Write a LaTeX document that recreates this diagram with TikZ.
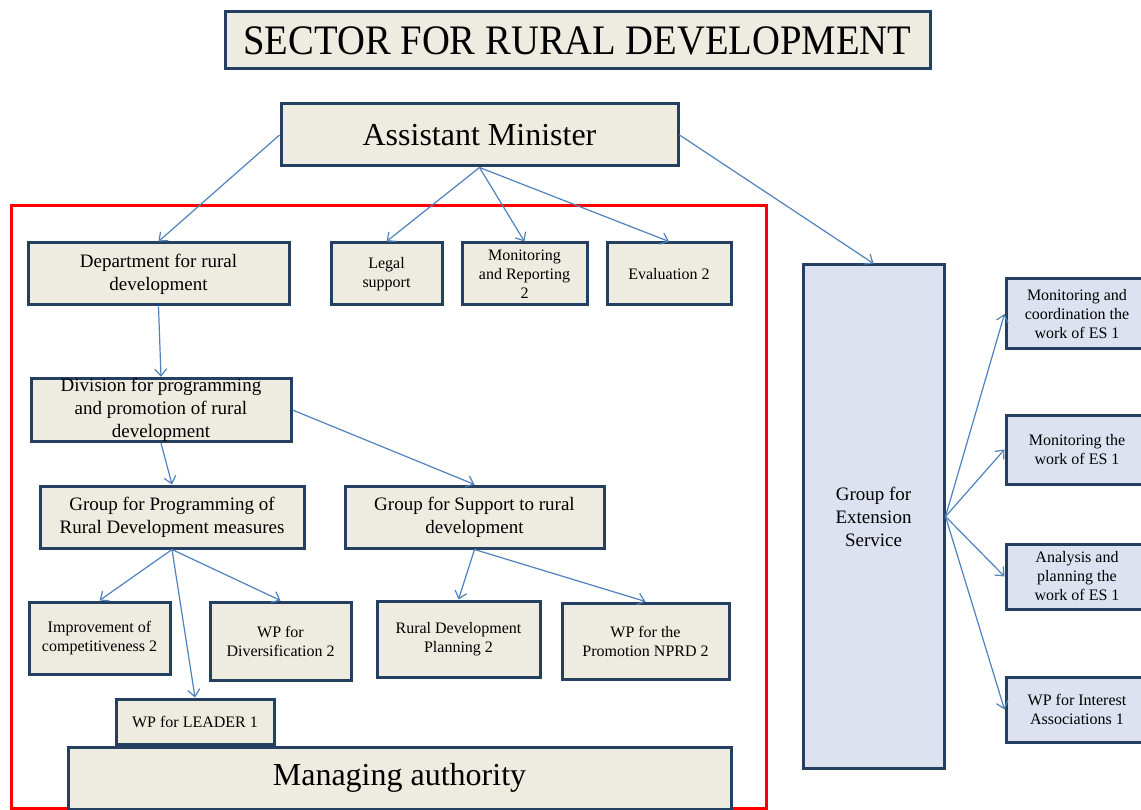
\documentclass[tikz,border=0pt]{standalone}
\usepackage{fontspec}
\setmainfont{Liberation Serif}
\usepackage{graphicx}
\usetikzlibrary{arrows.meta, positioning}

\definecolor{boxfill}{HTML}{EEECE1}
\definecolor{boxline}{HTML}{243F60}
\definecolor{extfill}{HTML}{DCE2F0}
\definecolor{linkblue}{HTML}{4F81BD}

\begin{document}
\begin{tikzpicture}[
	x=1pt, y=-1pt,
	org_box/.style={rectangle, draw=boxline, line width=3pt, fill=boxfill, align=center, inner sep=0pt, font=\fontsize{19}{23}\selectfont},
	small_text/.style={font=\fontsize{16}{19}\selectfont},
	ext_box/.style={org_box, fill=extfill},
	wh/.style 2 args={minimum width=#1pt, minimum height=#2pt},
	link/.style={draw=linkblue, line width=1.2pt, -{Straight Barb[length=7pt, width=12pt]}}
	]
	\useasboundingbox (0,0) rectangle (1141,810);
	
	% --- MANAGING AUTHORITY FRAME ---
	\draw[red, line width=3pt] (11,206) rectangle (766,808);
	
	% --- TOP LEVEL ---
	\node[org_box, wh={705}{57}, font=\fontsize{42}{48}\selectfont] (title) at (577.5,40.5) {\scalebox{0.92}[1]{SECTOR FOR RURAL DEVELOPMENT}};
	\node[org_box, wh={397}{62}, font=\fontsize{32}{38}\selectfont] (am) at (479.5,135) {Assistant Minister};
	
	% --- DEPARTMENT AND SUPPORT UNITS ---
	\node[org_box, wh={261}{62}] (dept) at (158.5,274) {Department for rural\\development};
	\node[org_box, small_text, wh={111}{62}] (legal) at (386.5,274) {Legal\\support};
	\node[org_box, small_text, wh={125}{62}] (mon) at (524.5,274) {Monitoring\\and Reporting\\2};
	\node[org_box, small_text, wh={124}{62}] (eval) at (669,274) {Evaluation 2};
	
	\node[org_box, wh={260}{62}] (div) at (161,410) {Division for programming\\and promotion of rural\\development};
	\node[org_box, wh={264}{62}] (gprog) at (172,517) {Group for Programming of\\Rural Development measures};
	\node[org_box, wh={259}{62}] (gsup) at (474.5,517) {Group for Support to rural\\development};
	
	% --- WORKING PLACES ---
	\node[org_box, small_text, wh={141}{72}] (impr) at (99.5,638) {Improvement of\\competitiveness 2};
	\node[org_box, small_text, wh={141}{78}] (divers) at (280.5,641) {WP for\\Diversification 2};
	\node[org_box, small_text, wh={163}{76}] (rdp) at (458.5,639) {Rural Development\\Planning 2};
	\node[org_box, small_text, wh={167}{76}] (promo) at (645.5,641) {WP for the\\Promotion NPRD 2};
	\node[org_box, small_text, wh={158}{45}] (leader) at (195,721.5) {WP for LEADER 1};
	\node[org_box, wh={663}{62}, font=\fontsize{32}{38}\selectfont] (ma) at (399.5,778) {Managing authority};
	
	% --- EXTENSION SERVICE ---
	\node[ext_box, wh={141}{503}] (ext) at (873.5,516.5) {Group for\\Extension\\Service};
	\node[ext_box, small_text, wh={142}{70}] (es1) at (1077,314) {Monitoring and\\coordination the\\work of ES 1};
	\node[ext_box, small_text, wh={142}{69}] (es2) at (1077,449.5) {Monitoring the\\work of ES 1};
	\node[ext_box, small_text, wh={142}{65}] (es3) at (1077,576.5) {Analysis and\\planning the\\work of ES 1};
	\node[ext_box, small_text, wh={142}{65}] (es4) at (1077,709.5) {WP for Interest\\Associations 1};
	
	% --- LINKS ---
	\draw[link] (am.west) -- (dept.north);
	\draw[link] (am.south) -- (legal.north);
	\draw[link] (am.south) -- (mon.north);
	\draw[link] (am.south) -- (eval.north);
	\draw[link] (am.east) -- (ext.north);
	\draw[link] (dept.south) -- (div.north);
	\draw[link] (div.south) -- (gprog.north);
	\draw[link] (div.east) -- (gsup.north);
	\draw[link] (gprog.south) -- (impr.north);
	\draw[link] (gprog.south) -- (divers.north);
	\draw[link] (gprog.south) -- (leader.north);
	\draw[link] (gsup.south) -- (rdp.north);
	\draw[link] (gsup.south) -- (promo.north);
	\draw[link] (ext.east) -- (es1.west);
	\draw[link] (ext.east) -- (es2.west);
	\draw[link] (ext.east) -- (es3.west);
	\draw[link] (ext.east) -- (es4.west);
	
\end{tikzpicture}
\end{document}
